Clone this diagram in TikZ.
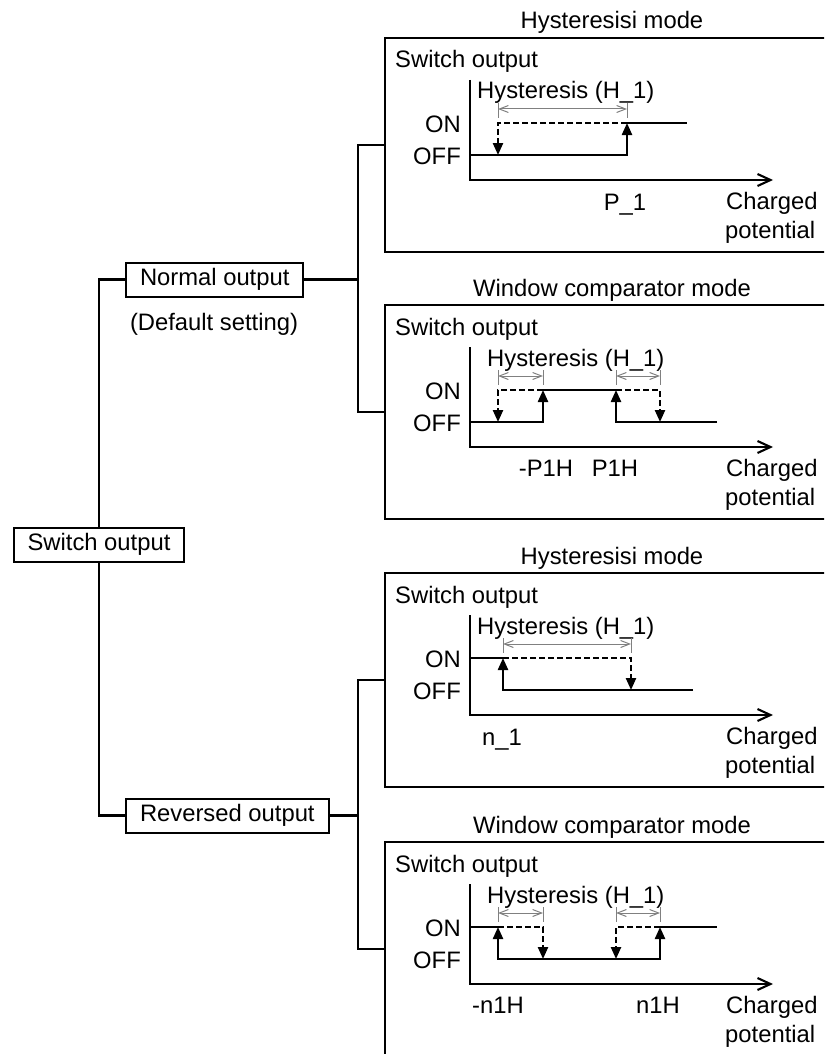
\documentclass[tikz,border=0pt]{standalone}
\usepackage{fontspec}
\setmainfont{Liberation Sans}
\usetikzlibrary{arrows.meta}

\begin{document}
\begin{tikzpicture}[x=1pt,y=-1pt,
    txt/.style={font=\fontsize{23.8}{28}\selectfont, inner sep=0pt},
    box/.style={draw, line width=2pt, font=\fontsize{23.8}{28}\selectfont, inner xsep=14pt, inner ysep=0pt, minimum height=34pt},
    panel/.style={draw, line width=2pt, minimum width=455pt, minimum height=214pt},
    conn/.style={line width=2.1pt},
    xaxis/.style={line width=2.1pt, -{Straight Barb[length=13pt,width=12pt]}},
    sig/.style={line width=2.3pt},
    dsig/.style={line width=2.3pt, dash pattern=on 6pt off 3pt},
    sigarrow/.style={-{Triangle[length=12pt,width=10pt]}},
    dimline/.style={gray, line width=1pt, {Straight Barb[length=9pt,width=7pt]}-{Straight Barb[length=9pt,width=7pt]}},
    dimtick/.style={gray, line width=1pt}]
    \useasboundingbox (0,0) rectangle (824,1054);
    \clip (0,0) rectangle (824,1054);

    % the four mode panels
    \foreach \T/\name/\title/\hx in {38/p1/Hysteresisi mode/477, 305/p2/Window comparator mode/487,
        573/p3/Hysteresisi mode/477, 842/p4/Window comparator mode/487} {
        \node[panel] (\name) at (612.5,\T+107) {};
        \node[txt, anchor=base] (\name-t) at (612,\T-9) {\title};
        \node[txt, anchor=base west] (\name-s) at (395,\T+30) {Switch output};
        \node[txt, anchor=base west] (\name-h) at (\hx,\T+61) {Hysteresis (H\_1)};
        \node[txt, anchor=base east] (\name-on) at (461,\T+94) {ON};
        \node[txt, anchor=base east] (\name-off) at (461,\T+126) {OFF};
        \node[txt, anchor=base west] (\name-c) at (726,\T+171) {Charged};
        \node[txt, anchor=base west] (\name-p) at (725,\T+200) {potential};
        \draw[xaxis] (470,\T+42) -- (470,\T+142) -- (773,\T+142);
    }

    % tree on the left
    \node[box] (sw) at (99,544.5) {Switch output};
    \node[box, anchor=west] (nout) at (125,279.5) {Normal output};
    \node[box, anchor=west] (rout) at (125,815.5) {Reversed output};
    \node[txt, anchor=base] (dflt) at (214,330) {(Default setting)};
    \draw[conn] (nout.west) -| (sw.north);
    \draw[conn] (rout.west) -| (sw.south);

    \coordinate (nj) at (358,279.5);
    \coordinate (rj) at (358,815.5);
    \draw[conn] (nout.east) -- (nj);
    \draw[conn] (p1.west) -| (nj) |- (p2.west);
    \draw[conn] (rout.east) -- (rj);
    \draw[conn] (p3.west) -| (rj) |- (p4.west);

    % normal output, hysteresis mode
    \begin{scope}[shift={(0,38)}]
        \draw[sig, sigarrow] (470,117) -- (627,117) -- (627,85);
        \draw[sig] (627,85) -- (687,85);
        \draw[dsig, sigarrow] (627,85) -- (498,85) -- (498,117);
        \draw[dimtick] (498,65) -- (498,80) (627,65) -- (627,80);
        \draw[dimline] (498,71) -- (627,71);
        \node[txt, anchor=base] (p1-v) at (625,172) {P\_1};
    \end{scope}

    % normal output, window comparator mode
    \begin{scope}[shift={(0,305)}]
        \draw[sig, sigarrow] (470,117) -- (543,117) -- (543,85);
        \draw[sig] (543,85) -- (616,85);
        \draw[sig, sigarrow] (717,117) -- (616,117) -- (616,85);
        \draw[dsig, sigarrow] (543,85) -- (498,85) -- (498,117);
        \draw[dsig, sigarrow] (616,85) -- (660,85) -- (660,117);
        \draw[dimtick] (498,65) -- (498,80) (543,65) -- (543,80)
            (616,65) -- (616,80) (660,65) -- (660,80);
        \draw[dimline] (498,71) -- (543,71);
        \draw[dimline] (616,71) -- (660,71);
        \node[txt, anchor=base] (p2-v1) at (546,171) {-P1H};
        \node[txt, anchor=base] (p2-v2) at (615,171) {P1H};
    \end{scope}

    % reversed output, hysteresis mode
    \begin{scope}[shift={(0,573)}]
        \draw[sig] (470,85) -- (503,85);
        \draw[sig, sigarrow] (693,117) -- (503,117) -- (503,85);
        \draw[dsig, sigarrow] (503,85) -- (631,85) -- (631,117);
        \draw[dimtick] (503,65) -- (503,80) (631,65) -- (631,80);
        \draw[dimline] (503,71) -- (631,71);
        \node[txt, anchor=base] (p3-v) at (502,172) {n\_1};
    \end{scope}

    % reversed output, window comparator mode
    \begin{scope}[shift={(0,842)}]
        \draw[sig] (470,85) -- (498,85);
        \draw[sig, {Triangle[length=12pt,width=10pt]}-{Triangle[length=12pt,width=10pt]}]
            (498,85) -- (498,117) -- (660,117) -- (660,85);
        \draw[sig] (660,85) -- (717,85);
        \draw[dsig, sigarrow] (498,85) -- (543,85) -- (543,117);
        \draw[dsig, sigarrow] (660,85) -- (616,85) -- (616,117);
        \draw[dimtick] (498,65) -- (498,80) (543,65) -- (543,80)
            (616,65) -- (616,80) (660,65) -- (660,80);
        \draw[dimline] (498,71) -- (543,71);
        \draw[dimline] (616,71) -- (660,71);
        \node[txt, anchor=base] (p4-v1) at (498,171) {-n1H};
        \node[txt, anchor=base] (p4-v2) at (658,171) {n1H};
    \end{scope}
\end{tikzpicture}
\end{document}
